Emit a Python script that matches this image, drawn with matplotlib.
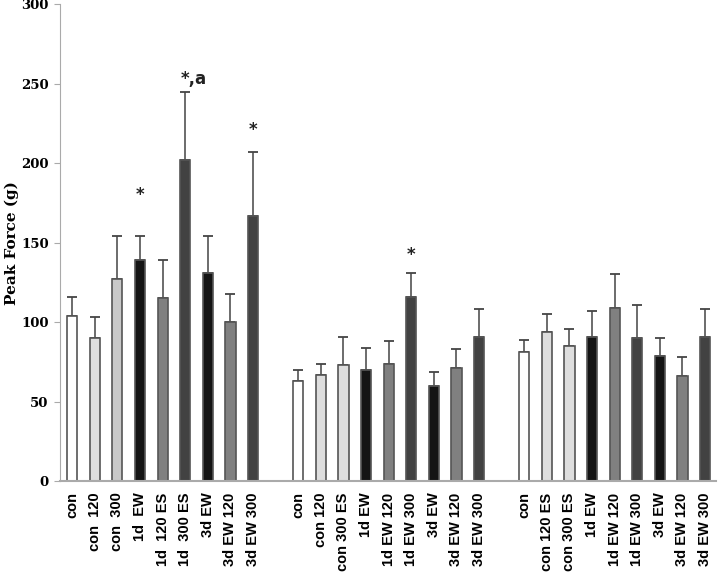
import matplotlib
matplotlib.use("Agg")
import matplotlib.pyplot as plt
import numpy as np

# bar labels for the three groups
labels_a = ["con", "con  120", "con  300", "1d  EW", "1d  120 ES", "1d  300 ES",
            "3d EW", "3d EW 120", "3d EW 300"]
labels_b = ["con", "con 120", "con 300 ES", "1d EW", "1d EW 120", "1d EW 300",
            "3d EW", "3d EW 120", "3d EW 300"]
labels_c = ["con", "con 120 ES", "con 300 ES", "1d EW", "1d EW 120", "1d EW 300",
            "3d EW", "3d EW 120", "3d EW 300"]

# mean peak force (g) and upper error (SD)
means_a = [104, 90, 127, 139, 115, 202, 131, 100, 167]
errs_a = [12, 13, 27, 15, 24, 43, 23, 18, 40]
means_b = [63, 67, 73, 70, 74, 116, 60, 71, 91]
errs_b = [7, 7, 18, 14, 14, 15, 9, 12, 17]
means_c = [81, 94, 85, 91, 109, 90, 79, 66, 91]
errs_c = [8, 11, 11, 16, 21, 21, 11, 12, 17]

# significance marks: (group, bar index, text, y)
marks = [(0, 3, "*", 180), (0, 5, "*,a", 253), (0, 8, "*", 221), (1, 5, "*", 142)]

colors = ["#ffffff", "#dedede", "#c8c8c8", "#141414", "#808080", "#424242",
          "#141414", "#808080", "#424242"]
colors_bc = ["#ffffff", "#dedede", "#dedede", "#141414", "#808080", "#424242",
             "#141414", "#808080", "#424242"]

fig = plt.figure(figsize=(7.2, 5.75), dpi=100)
ax = fig.add_axes([0.083, 0.163, 0.912, 0.83])

groups = [(labels_a, means_a, errs_a, colors),
          (labels_b, means_b, errs_b, colors_bc),
          (labels_c, means_c, errs_c, colors_bc)]

all_x = []
all_labels = []
for g, (labs, m, e, cols) in enumerate(groups):
    x = np.arange(len(labs)) + g * 10
    ax.bar(x, m, width=0.45, color=cols, edgecolor="#555555", linewidth=1.2, zorder=2)
    ax.errorbar(x, m, yerr=[np.zeros(len(e)), e], fmt="none", ecolor="#444444",
                elinewidth=1.1, capsize=3.5, capthick=1.3, zorder=1)
    all_x.extend(x)
    all_labels.extend(labs)

for g, i, txt, y in marks:
    # star is centred over the bar, any suffix runs to the right
    ax.text(g * 10 + i - 0.2, y, txt, ha="left", va="center", fontsize=12,
            fontweight="bold", color="#222222", family="DejaVu Sans")

ax.set_xlim(-0.55, 28.5)
ax.set_ylim(0, 300)
ax.set_yticks(range(0, 301, 50))
ax.set_xticks(all_x)
ax.set_xticklabels(all_labels, rotation=90, fontsize=10.5, fontweight="bold",
                   family="Liberation Sans")
ax.tick_params(axis="x", length=0, pad=8)
ax.tick_params(axis="y", length=4, color="#aaaaaa", pad=4)
for t in ax.get_yticklabels():
    t.set_family("DejaVu Serif")
    t.set_fontweight("bold")
    t.set_fontsize(9.5)
ax.set_ylabel("Peak Force (g)", fontsize=11, fontweight="bold", family="DejaVu Serif")
ax.yaxis.set_label_coords(-0.062, 0.5)
ax.spines["top"].set_visible(False)
ax.spines["right"].set_visible(False)
ax.spines["left"].set_color("#aaaaaa")
ax.spines["bottom"].set_color("#aaaaaa")
ax.spines["bottom"].set_linewidth(1.5)

fig.savefig("out.png", dpi=100)
